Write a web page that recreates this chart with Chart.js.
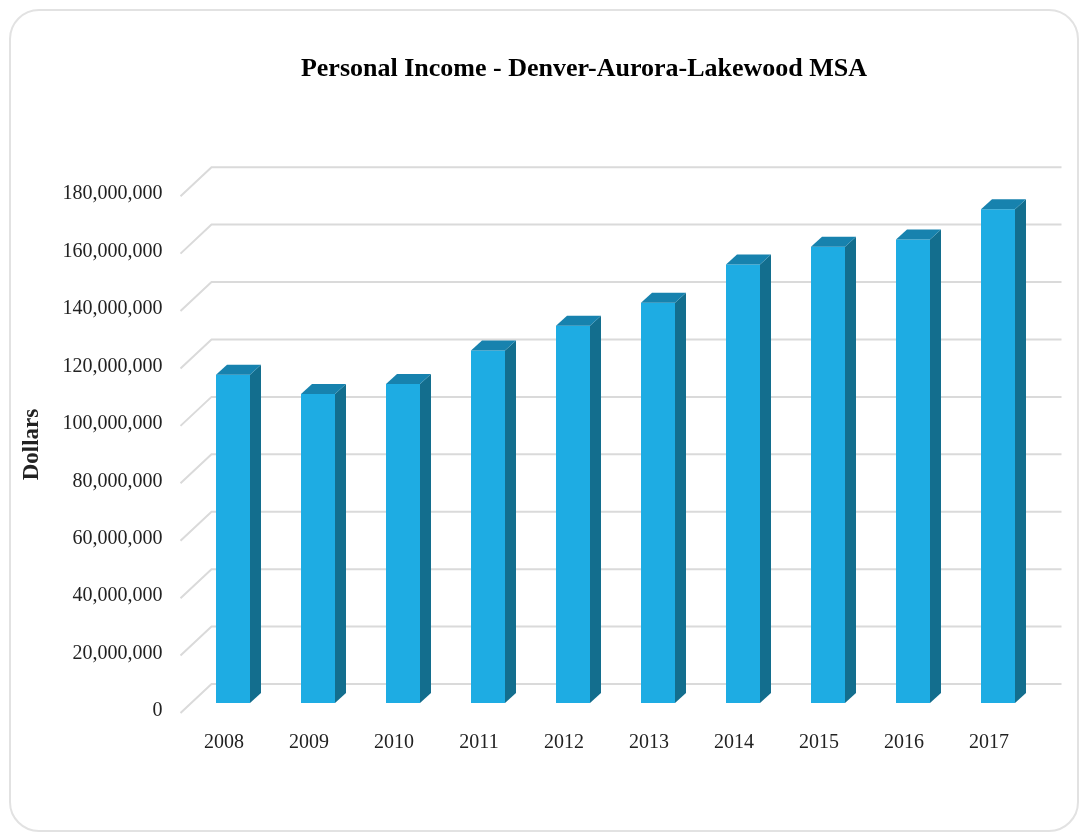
<!DOCTYPE html>
<html>
<head>
<meta charset="utf-8">
<script src="https://cdn.jsdelivr.net/npm/chart.js@4.4.0/dist/chart.umd.min.js"></script>
<style>
  html, body { margin: 0; padding: 0; background: #fff; }
  .card {
    position: absolute; left: 9px; top: 9px; width: 1070px; height: 823px;
    border: 2px solid #e2e2e2; border-radius: 30px; box-sizing: border-box;
  }
  #wrap { position: absolute; left: 0; top: 0; width: 1079px; height: 834px; }
</style>
</head>
<body>
<div class="card"></div>
<div id="wrap"><canvas id="incomeChart"></canvas></div>
<script>
const years = ['2008', '2009', '2010', '2011', '2012', '2013', '2014', '2015', '2016', '2017'];
const income = [114300000, 107600000, 111100000, 122800000, 131400000, 139400000, 152700000, 158900000, 161400000, 172000000];
const yMin = 0;
const yMax = 180000000;
const yStep = 20000000;

const font = 'Liberation Serif, Times New Roman, serif';
const depthX = 11, depthY = 10; // bar side / top depth

// draws the 3D gridlines and the side + top faces of every bar
const box3d = {
    id: 'box3d',
    afterLayout(chart) {
        // centre the title over x = 584 like the original
        const t = chart.titleBlock;
        if (t) { t.left = 0; t.right = 1168; }
    },
    beforeDatasetsDraw(chart) {
        const {ctx, chartArea, scales} = chart;
        const y = scales.y;
        ctx.save();
        ctx.strokeStyle = '#dadada';
        ctx.lineWidth = 2;
        y.ticks.forEach(t => {
            const py = y.getPixelForValue(t.value);
            ctx.beginPath();
            ctx.moveTo(chartArea.left - 10, py + 10);
            ctx.lineTo(chartArea.left + 21, py - 19);
            ctx.lineTo(chartArea.right + 21, py - 19);
            ctx.stroke();
        });
        ctx.restore();
    },
    afterDatasetsDraw(chart) {
        const ctx = chart.ctx;
        ctx.save();
        chart.getDatasetMeta(0).data.forEach(bar => {
            const {x, y, base, width} = bar.getProps(['x', 'y', 'base', 'width'], true);
            const l = x - width / 2, r = x + width / 2;
            // side
            ctx.fillStyle = '#136e8e';
            ctx.beginPath();
            ctx.moveTo(r, y);
            ctx.lineTo(r + depthX, y - depthY);
            ctx.lineTo(r + depthX, base - depthY);
            ctx.lineTo(r, base);
            ctx.closePath();
            ctx.fill();
            // top
            ctx.fillStyle = '#1782ae';
            ctx.beginPath();
            ctx.moveTo(l, y);
            ctx.lineTo(l + depthX, y - depthY);
            ctx.lineTo(r + depthX, y - depthY);
            ctx.lineTo(r, y);
            ctx.closePath();
            ctx.fill();
        });
        ctx.restore();
    }
};

const ctx = document.getElementById('incomeChart').getContext('2d');
const incomeChart = new Chart(ctx, {
    type: 'bar',
    data: {
        labels: years,
        datasets: [{
            label: 'Personal Income',
            data: income,
            backgroundColor: '#1eace3',
            borderWidth: 0,
            categoryPercentage: 1,
            barPercentage: 0.4
        }]
    },
    options: {
        responsive: true,
        maintainAspectRatio: false,
        animation: false,
        layout: {
            padding: {left: 14, right: 38.5, top: 0, bottom: 0}
        },
        scales: {
            x: {
                grid: {display: false},
                border: {display: false},
                ticks: {
                    color: '#222',
                    font: {family: font, size: 20},
                    padding: 20,
                    labelOffset: -9,
                    maxRotation: 0
                },
                afterFit: s => { s.height = 131; }
            },
            y: {
                min: yMin,
                max: yMax,
                grid: {display: false},
                border: {display: false},
                ticks: {
                    stepSize: yStep,
                    color: '#222',
                    font: {family: font, size: 20},
                    padding: 20,
                    labelOffset: 8,
                    callback: v => String(v).replace(/\B(?=(\d{3})+(?!\d))/g, ',')
                },
                title: {
                    display: true,
                    text: 'Dollars',
                    color: '#222',
                    font: {family: font, size: 23, weight: 'bold'},
                    padding: {top: 4, bottom: 0}
                },
                afterFit: s => { s.width = 176.5; }
            }
        },
        plugins: {
            legend: {display: false},
            tooltip: {enabled: false},
            title: {
                display: true,
                text: 'Personal Income - Denver-Aurora-Lakewood MSA',
                color: '#000',
                font: {family: font, size: 26, weight: 'bold'},
                padding: {top: 54, bottom: 101}
            }
        }
    },
    plugins: [box3d]
});
</script>
</body>
</html>
